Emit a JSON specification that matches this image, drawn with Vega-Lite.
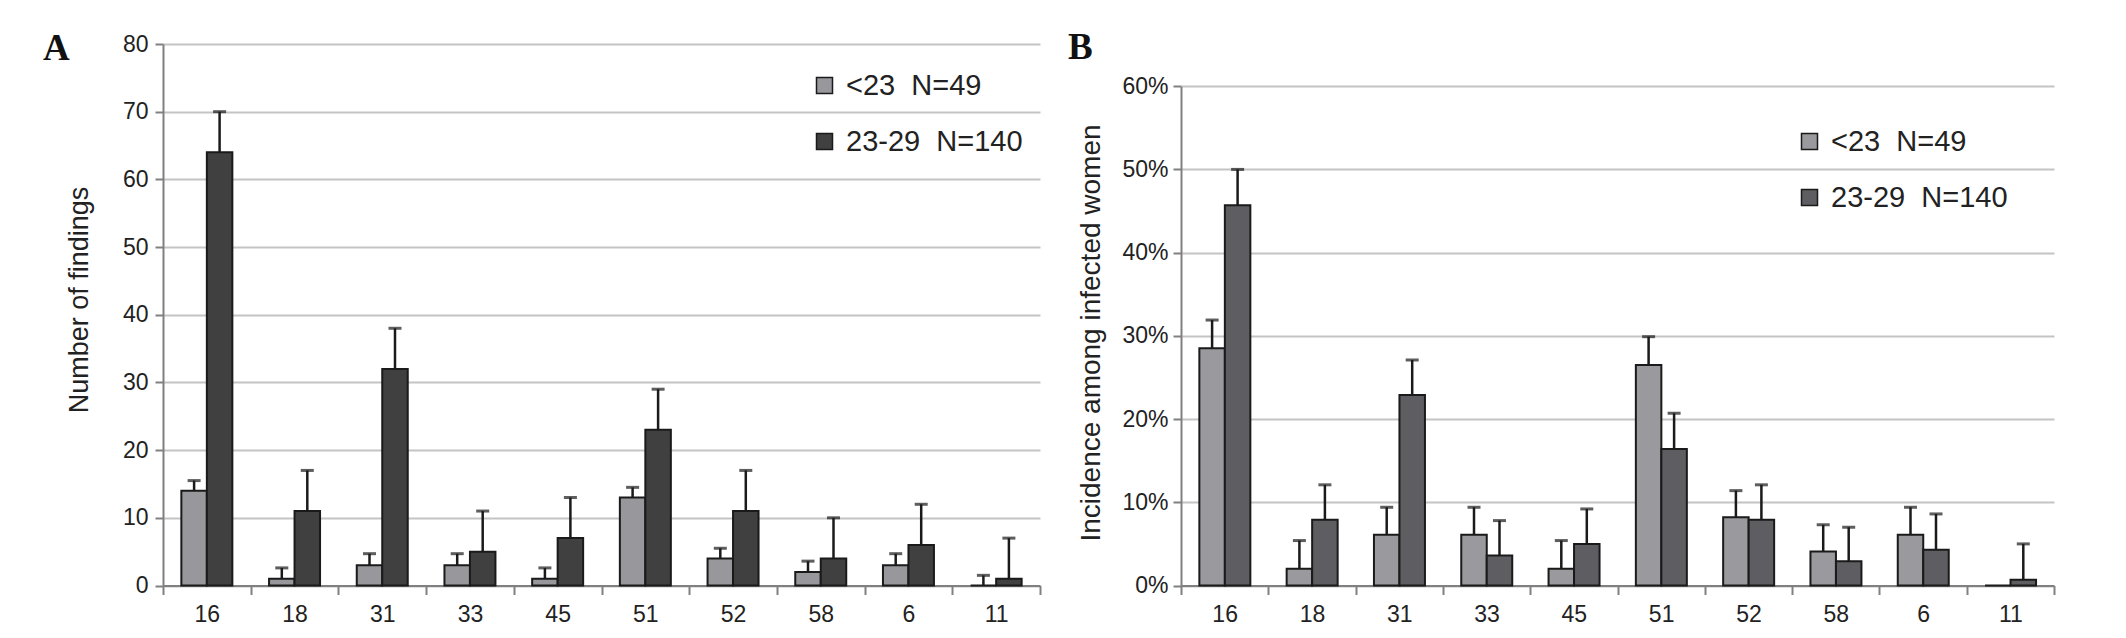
{
  "$schema": "https://vega.github.io/schema/vega-lite/v6.json",
  "background": "white",
  "padding": {"left": 43, "top": 29, "right": 20, "bottom": 5},
  "config": {
    "view": {"stroke": null},
    "font": "Liberation Sans",
    "axis": {
      "labelFont": "Liberation Sans",
      "labelFontSize": 23,
      "labelColor": "#222222",
      "titleFont": "Liberation Sans",
      "titleFontSize": 27,
      "titleFontWeight": "normal",
      "titleColor": "#222222",
      "domainColor": "#808080",
      "domainWidth": 2,
      "tickColor": "#808080",
      "tickWidth": 2,
      "gridColor": "#c4c4c4",
      "gridWidth": 2
    },
    "legend": {
      "labelFont": "Liberation Sans",
      "labelFontSize": 29,
      "labelColor": "#222222",
      "labelLimit": 400,
      "symbolType": "square",
      "symbolSize": 256,
      "symbolStrokeColor": "#1a1a1a",
      "symbolStrokeWidth": 1.5,
      "labelOffset": 7,
      "rowPadding": 26
    }
  },
  "datasets": {
    "counts": [
      {"type": "16", "group": "<23\u00a0\u00a0N=49", "value": 14, "upper": 15.5},
      {"type": "16", "group": "23-29\u00a0\u00a0N=140", "value": 64, "upper": 70},
      {"type": "18", "group": "<23\u00a0\u00a0N=49", "value": 1, "upper": 2.6},
      {"type": "18", "group": "23-29\u00a0\u00a0N=140", "value": 11, "upper": 17},
      {"type": "31", "group": "<23\u00a0\u00a0N=49", "value": 3, "upper": 4.7},
      {"type": "31", "group": "23-29\u00a0\u00a0N=140", "value": 32, "upper": 38},
      {"type": "33", "group": "<23\u00a0\u00a0N=49", "value": 3, "upper": 4.7},
      {"type": "33", "group": "23-29\u00a0\u00a0N=140", "value": 5, "upper": 11},
      {"type": "45", "group": "<23\u00a0\u00a0N=49", "value": 1, "upper": 2.6},
      {"type": "45", "group": "23-29\u00a0\u00a0N=140", "value": 7, "upper": 13},
      {"type": "51", "group": "<23\u00a0\u00a0N=49", "value": 13, "upper": 14.5},
      {"type": "51", "group": "23-29\u00a0\u00a0N=140", "value": 23, "upper": 29},
      {"type": "52", "group": "<23\u00a0\u00a0N=49", "value": 4, "upper": 5.5},
      {"type": "52", "group": "23-29\u00a0\u00a0N=140", "value": 11, "upper": 17},
      {"type": "58", "group": "<23\u00a0\u00a0N=49", "value": 2, "upper": 3.6},
      {"type": "58", "group": "23-29\u00a0\u00a0N=140", "value": 4, "upper": 10},
      {"type": "6", "group": "<23\u00a0\u00a0N=49", "value": 3, "upper": 4.7},
      {"type": "6", "group": "23-29\u00a0\u00a0N=140", "value": 6, "upper": 12},
      {"type": "11", "group": "<23\u00a0\u00a0N=49", "value": 0, "upper": 1.5},
      {"type": "11", "group": "23-29\u00a0\u00a0N=140", "value": 1, "upper": 7}
    ],
    "incidence": [
      {"type": "16", "group": "<23\u00a0\u00a0N=49", "value": 0.285, "upper": 0.319},
      {"type": "16", "group": "23-29\u00a0\u00a0N=140", "value": 0.457, "upper": 0.5},
      {"type": "18", "group": "<23\u00a0\u00a0N=49", "value": 0.02, "upper": 0.054},
      {"type": "18", "group": "23-29\u00a0\u00a0N=140", "value": 0.079, "upper": 0.121},
      {"type": "31", "group": "<23\u00a0\u00a0N=49", "value": 0.061, "upper": 0.094},
      {"type": "31", "group": "23-29\u00a0\u00a0N=140", "value": 0.229, "upper": 0.271},
      {"type": "33", "group": "<23\u00a0\u00a0N=49", "value": 0.061, "upper": 0.094},
      {"type": "33", "group": "23-29\u00a0\u00a0N=140", "value": 0.036, "upper": 0.078},
      {"type": "45", "group": "<23\u00a0\u00a0N=49", "value": 0.02, "upper": 0.054},
      {"type": "45", "group": "23-29\u00a0\u00a0N=140", "value": 0.05, "upper": 0.092},
      {"type": "51", "group": "<23\u00a0\u00a0N=49", "value": 0.265, "upper": 0.299},
      {"type": "51", "group": "23-29\u00a0\u00a0N=140", "value": 0.164, "upper": 0.207},
      {"type": "52", "group": "<23\u00a0\u00a0N=49", "value": 0.082, "upper": 0.114},
      {"type": "52", "group": "23-29\u00a0\u00a0N=140", "value": 0.079, "upper": 0.121},
      {"type": "58", "group": "<23\u00a0\u00a0N=49", "value": 0.041, "upper": 0.073},
      {"type": "58", "group": "23-29\u00a0\u00a0N=140", "value": 0.029, "upper": 0.07},
      {"type": "6", "group": "<23\u00a0\u00a0N=49", "value": 0.061, "upper": 0.094},
      {"type": "6", "group": "23-29\u00a0\u00a0N=140", "value": 0.043, "upper": 0.086},
      {"type": "11", "group": "<23\u00a0\u00a0N=49", "value": 0, "upper": null},
      {"type": "11", "group": "23-29\u00a0\u00a0N=140", "value": 0.007, "upper": 0.05}
    ]
  },
  "spacing": 27,
  "resolve": {"scale": {"fill": "independent", "y": "independent"}, "legend": {"fill": "independent"}},
  "hconcat": [
    {
      "width": 877,
      "height": 541.5,
      "title": {"text": "A", "anchor": "start", "frame": "group", "font": "Liberation Serif", "fontSize": 37, "fontWeight": "bold", "color": "#111111", "baseline": "alphabetic", "offset": -35.5, "dx": -120, "dy": 28.5},
      "data": {"name": "counts"},
      "encoding": {
        "x": {"field": "type", "type": "nominal", "sort": ["16", "18", "31", "33", "45", "51", "52", "58", "6", "11"], "scale": {"paddingInner": 0, "paddingOuter": 0},
              "axis": {"title": null, "labelAngle": 0, "tickBand": "extent", "tickSize": 9, "labelPadding": 9, "grid": false}},
        "xOffset": {"field": "group", "type": "nominal", "sort": ["<23\u00a0\u00a0N=49", "23-29\u00a0\u00a0N=140"], "scale": {"paddingInner": 0, "paddingOuter": 0.72}}
      },
      "layer": [
        {
          "mark": {"type": "bar", "stroke": "#1a1a1a", "strokeWidth": 2},
          "encoding": {
            "y": {"field": "value", "type": "quantitative", "scale": {"domain": [0, 80], "nice": false},
                  "axis": {"title": "Number of findings", "values": [0, 10, 20, 30, 40, 50, 60, 70, 80], "grid": true, "tickSize": 8, "labelPadding": 7, "titleX": -84, "titleY": 255.5, "titleBaseline": "middle"}},
            "fill": {"field": "group", "type": "nominal", "sort": ["<23\u00a0\u00a0N=49", "23-29\u00a0\u00a0N=140"],
                     "scale": {"domain": ["<23\u00a0\u00a0N=49", "23-29\u00a0\u00a0N=140"], "range": ["#98989c", "#404040"]},
                     "legend": {"title": null, "orient": "none", "legendX": 647, "legendY": 27}}
          }
        },
        {
          "transform": [{"filter": "isValid(datum.upper)"}],
          "mark": {"type": "rule", "color": "#1a1a1a", "strokeWidth": 2.5},
          "encoding": {"y": {"field": "value", "type": "quantitative"}, "y2": {"field": "upper"}}
        },
        {
          "transform": [{"filter": "isValid(datum.upper)"}],
          "mark": {"type": "tick", "color": "#1a1a1a", "thickness": 3, "size": 13},
          "encoding": {"y": {"field": "upper", "type": "quantitative"}}
        }
      ]
    },
    {
      "width": 873,
      "height": 541.5,
      "title": {"text": "B", "anchor": "start", "frame": "group", "font": "Liberation Serif", "fontSize": 37, "fontWeight": "bold", "color": "#111111", "baseline": "alphabetic", "offset": -35.5, "dx": -113, "dy": 16.5},
      "data": {"name": "incidence"},
      "encoding": {
        "x": {"field": "type", "type": "nominal", "sort": ["16", "18", "31", "33", "45", "51", "52", "58", "6", "11"], "scale": {"paddingInner": 0, "paddingOuter": 0},
              "axis": {"title": null, "labelAngle": 0, "tickBand": "extent", "tickSize": 9, "labelPadding": 9, "grid": false}},
        "xOffset": {"field": "group", "type": "nominal", "sort": ["<23\u00a0\u00a0N=49", "23-29\u00a0\u00a0N=140"], "scale": {"paddingInner": 0, "paddingOuter": 0.72}}
      },
      "layer": [
        {
          "mark": {"type": "bar", "stroke": "#1a1a1a", "strokeWidth": 2},
          "encoding": {
            "y": {"field": "value", "type": "quantitative", "scale": {"domain": [0, 0.6], "nice": false, "range": [541.5, 42.2]},
                  "axis": {"title": "Incidence among infected women", "titleFontSize": 28, "format": ".0%", "values": [0, 0.1, 0.2, 0.3, 0.4, 0.5, 0.6], "grid": true, "tickSize": 8, "labelPadding": 5, "titleX": -90, "titleY": 288.5, "titleBaseline": "middle"}},
            "fill": {"field": "group", "type": "nominal", "sort": ["<23\u00a0\u00a0N=49", "23-29\u00a0\u00a0N=140"],
                     "scale": {"domain": ["<23\u00a0\u00a0N=49", "23-29\u00a0\u00a0N=140"], "range": ["#9a9a9e", "#5e5e62"]},
                     "legend": {"title": null, "orient": "none", "legendX": 614, "legendY": 83}}
          }
        },
        {
          "transform": [{"filter": "isValid(datum.upper)"}],
          "mark": {"type": "rule", "color": "#1a1a1a", "strokeWidth": 2.5},
          "encoding": {"y": {"field": "value", "type": "quantitative"}, "y2": {"field": "upper"}}
        },
        {
          "transform": [{"filter": "isValid(datum.upper)"}],
          "mark": {"type": "tick", "color": "#1a1a1a", "thickness": 3, "size": 13},
          "encoding": {"y": {"field": "upper", "type": "quantitative"}}
        }
      ]
    }
  ]
}
